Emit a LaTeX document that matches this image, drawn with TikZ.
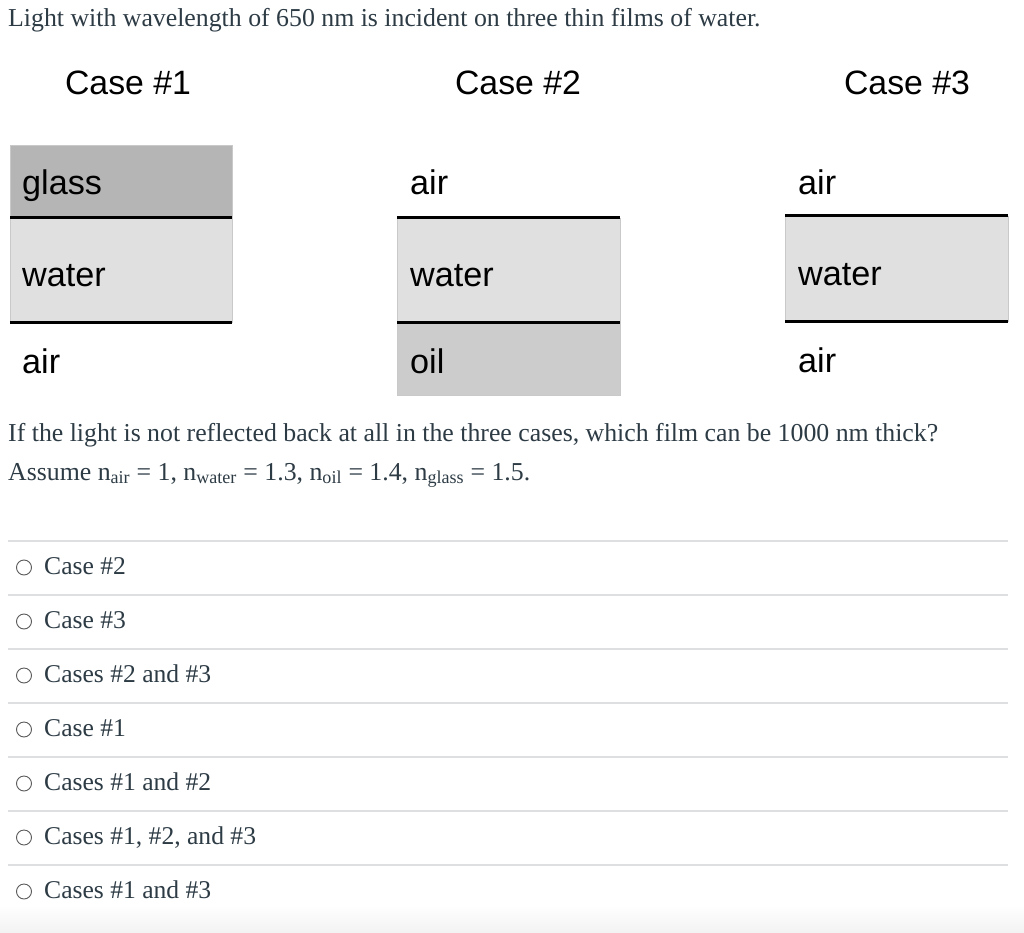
\documentclass[tikz,border=0pt]{standalone}
\usepackage{fontspec}
\setmainfont{Liberation Serif}
\newfontfamily\arialfont{Liberation Sans}
\definecolor{slate}{HTML}{2D3B45}
\definecolor{glassc}{HTML}{B5B5B5}
\definecolor{waterc}{HTML}{E0E0E0}
\definecolor{oilc}{HTML}{CCCCCC}
\definecolor{edgec}{HTML}{C9C9C9}
\definecolor{sepc}{HTML}{DDDFE0}
\begin{document}
\begin{tikzpicture}[x=1pt,y=-1pt,
  serifText/.style={inner sep=0pt,anchor=base west,text=slate,font=\fontsize{25.8}{31}\selectfont},
  optText/.style={inner sep=0pt,anchor=base west,text=slate,font=\fontsize{25.6}{31}\selectfont},
  caseHead/.style={inner sep=0pt,anchor=base,font=\arialfont\fontsize{33.8}{40}\selectfont},
  layerText/.style={inner sep=0pt,anchor=base west,font=\arialfont\fontsize{34.2}{41}\selectfont},
  layerBox/.style={draw=edgec,line width=0.8pt},
  iface/.style={line width=3pt,black},
  sepLine/.style={draw=sepc,line width=1.2pt},
  radioBtn/.style={circle,draw=black!65,line width=0.9pt,minimum size=15pt,inner sep=0pt}]
\useasboundingbox (0,0) rectangle (1024,933);
\fill[white] (0,0) rectangle (1024,933);
\shade[top color=white,bottom color=black!5] (0,905) rectangle (1024,933);

% title
\node[serifText] (title) at (8,26.5) {Light with wavelength of 650 nm is incident on three thin films of water.};

% case headers
\node[caseHead] (h1) at (128,94.5) {Case \#1};
\node[caseHead] (h2) at (518,94.5) {Case \#2};
\node[caseHead] (h3) at (907,94.5) {Case \#3};

% Case 1
\fill[glassc,layerBox] (10,145) rectangle (232,218);
\fill[waterc,layerBox] (10,218) rectangle (232,322);
\draw[iface] (10,218) -- (232,218);
\draw[iface] (10,322) -- (232,322);
\node[layerText] (c1a) at (22,194.5) {glass};
\node[layerText] (c1b) at (22,286) {water};
\node[layerText] (c1c) at (22,373) {air};

% Case 2
\fill[waterc,layerBox] (397,218) rectangle (620,322);
\fill[oilc,layerBox] (397,322) rectangle (620,395);
\draw[iface] (397,218) -- (620,218);
\draw[iface] (397,322) -- (620,322);
\node[layerText] (c2a) at (410,194.5) {air};
\node[layerText] (c2b) at (410,286) {water};
\node[layerText] (c2c) at (410,373) {oil};

% Case 3
\fill[waterc,layerBox] (785,216) rectangle (1008,321);
\draw[iface] (785,216) -- (1008,216);
\draw[iface] (785,321) -- (1008,321);
\node[layerText] (c3a) at (798,194.5) {air};
\node[layerText] (c3b) at (798,285) {water};
\node[layerText] (c3c) at (798,372.5) {air};

% question
\node[serifText] (q1) at (8,441.5) {If the light is not reflected back at all in the three cases, which film can be 1000 nm thick?};
\node[serifText] (q2) at (8,480) {Assume n\textsubscript{air} = 1, n\textsubscript{water} = 1.3, n\textsubscript{oil} = 1.4, n\textsubscript{glass} = 1.5.};

% options
\foreach \i/\lab in {0/{Case \#2},1/{Case \#3},2/{Cases \#2 and \#3},3/{Case \#1},4/{Cases \#1 and \#2},5/{Cases \#1, \#2, and \#3},6/{Cases \#1 and \#3}}{
  \pgfmathsetmacro{\sy}{541+54*\i}
  \pgfmathsetmacro{\by}{574+54*\i}
  \pgfmathsetmacro{\cy}{567.5+54*\i}
  \draw[sepLine] (8,\sy) -- (1008,\sy);
  \node[radioBtn] (rb\i) at (24,\cy) {};
  \node[optText] (opt\i) at (44,\by) {\lab};
}
\end{tikzpicture}
\end{document}
